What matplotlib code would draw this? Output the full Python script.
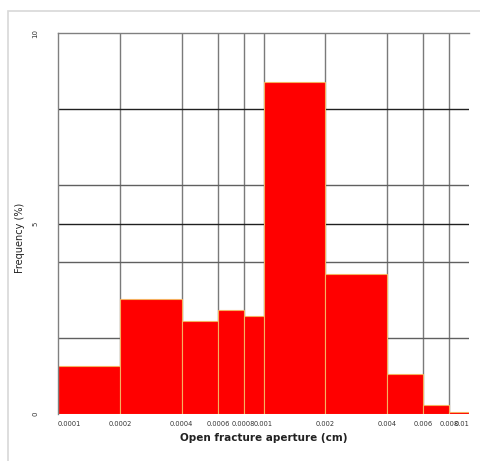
import matplotlib
matplotlib.use("Agg")
import matplotlib.pyplot as plt
from matplotlib.patches import Rectangle

# data
bin_edges = [0.0001, 0.0002, 0.0004, 0.0006, 0.0008, 0.001, 0.002, 0.004, 0.006, 0.008, 0.01]
freq = [1.26, 3.02, 2.45, 2.73, 2.57, 8.71, 3.67, 1.05, 0.23, 0.04]
xtick_vals = [0.0001, 0.0002, 0.0004, 0.0006, 0.0008, 0.001, 0.002, 0.004, 0.006, 0.008, 0.01]
xtick_labels = ["0.0001", "0.0002", "0.0004", "0.0006", "0.0008", "0.001", "0.002", "0.004", "0.006", "0.008", "0.01"]
ytick_vals = [0, 5, 10]
ytick_labels = ["0", "5", "10"]
hgrid_light = [2, 4, 6]
hgrid_dark = [5, 8]

W, H = 480, 461
fig = plt.figure(figsize=(W / 100, H / 100), dpi=100)
fig.patch.set_facecolor("white")

# light frame around figure
fig.patches.append(Rectangle((8 / W, -0.01), 1.0, 1 - 11 / H + 0.01, transform=fig.transFigure,
                             fill=False, edgecolor="#d8d8d8", linewidth=1.2))

L, T, R, B = 58, 33, 469, 414
ax = fig.add_axes([L / W, 1 - B / H, (R - L) / W, (B - T) / H])
ax.set_xscale("log")
ax.set_xlim(bin_edges[0], bin_edges[-1])
ax.set_ylim(0, 10)

# grid lines
for xv in xtick_vals[1:-1]:
    ax.axvline(xv, color="#7a7a7a", linewidth=1.0, zorder=1)
for yv in hgrid_light:
    ax.axhline(yv, color="#606060", linewidth=1.0, zorder=1)
for yv in hgrid_dark:
    ax.axhline(yv, color="#202020", linewidth=1.0, zorder=1)

# bars
lefts = bin_edges[:-1]
widths = [r - l for l, r in zip(bin_edges[:-1], bin_edges[1:])]
ax.bar(lefts, freq, width=widths, align="edge", color="#ff0000",
       edgecolor="#f5b060", linewidth=0.8, zorder=2)

# spines
for s in ["right", "bottom"]:
    ax.spines[s].set_visible(False)
for s in ["left", "top"]:
    ax.spines[s].set_color("#808080")
    ax.spines[s].set_linewidth(1.0)

ax.set_xticks(xtick_vals)
ax.set_xticklabels(xtick_labels, fontsize=4.8, color="#333333")
ax.minorticks_off()
ax.tick_params(axis="x", length=0, pad=5)
labs = ax.get_xticklabels()
labs[0].set_horizontalalignment("left")
labs[-1].set_horizontalalignment("right")

ax.set_yticks(ytick_vals)
ax.set_yticklabels(ytick_labels, fontsize=5, rotation=90, va="center", color="#333333")
ax.tick_params(axis="y", length=0, pad=14)

fig.text((L + R) / 2 / W, 1 - 438 / H, "Open fracture aperture (cm)", ha="center", va="center",
         fontsize=7.5, fontweight="bold", color="#222222")
fig.text(20 / W, 1 - 238 / H, "Frequency (%)", ha="center", va="center", rotation=90,
         fontsize=7, color="#222222")

fig.savefig("out.png", dpi=100)
